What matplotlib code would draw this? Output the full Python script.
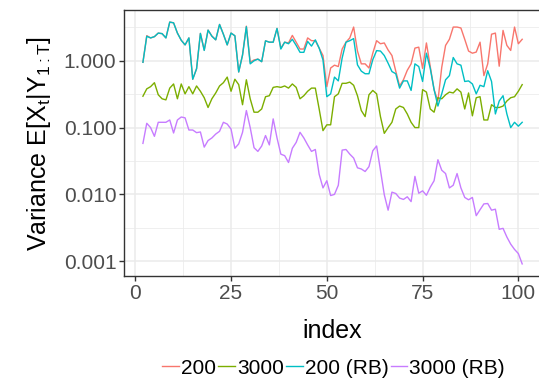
import numpy as np
import matplotlib
matplotlib.use("Agg")
import matplotlib.pyplot as plt
from matplotlib.ticker import FixedLocator, FixedFormatter

plt.rcParams['font.family'] = ['Liberation Sans', 'DejaVu Sans']

# index runs 2..101
index = list(range(2, 102))

rb200 = [0.95, 2.33, 2.2, 2.3, 2.6, 2.55, 2.2, 3.8, 3.7, 2.6,
         2.03, 1.73, 2.2, 0.53, 0.76, 2.57, 1.43, 2.88, 2.33, 2.06,
         3.5, 2.5, 1.73, 2.6, 2.37, 0.68, 1.22, 3.24, 0.9, 1.0,
         1.06, 0.97, 1.99, 1.9, 1.9, 3.05, 1.5, 1.9, 1.8, 2.1,
         1.7, 1.34, 1.34, 1.95, 1.66, 2.06, 1.55, 1.03, 0.29, 0.32,
         0.57, 0.5, 1.1, 1.9, 2.0, 2.15, 0.87, 0.7, 0.64, 0.64,
         1.04, 1.42, 1.4, 1.2, 0.92, 0.69, 0.64, 0.39, 0.5, 0.5,
         0.36, 0.9, 0.82, 0.49, 1.3, 0.77, 0.37, 0.21, 0.32, 0.52,
         0.6, 1.12, 0.9, 0.86, 0.49, 0.5, 0.45, 0.32, 0.43, 0.41,
         0.71, 0.49, 0.16, 0.25, 0.3, 0.16, 0.1, 0.12, 0.105, 0.12]

plain200 = [0.95, 2.38, 2.2, 2.3, 2.6, 2.55, 2.2, 3.8, 3.7, 2.6,
            2.03, 1.73, 2.2, 0.53, 0.76, 2.57, 1.45, 2.88, 2.35, 2.06,
            3.5, 2.5, 1.73, 2.6, 2.37, 0.68, 1.22, 3.3, 0.95, 1.03,
            1.06, 0.97, 1.99, 1.9, 1.9, 3.05, 1.55, 1.9, 1.85, 2.4,
            1.9, 1.5, 1.5, 2.2, 2.0, 2.0, 1.55, 1.2, 0.41, 0.78,
            0.86, 0.82, 1.5, 1.9, 2.2, 3.2, 1.4, 0.9, 0.9, 0.78,
            1.3, 2.0, 1.8, 1.85, 1.45, 1.2, 0.7, 0.42, 0.52, 0.72,
            0.9, 1.55, 1.6, 0.77, 1.85, 0.82, 0.37, 0.25, 0.8, 1.7,
            2.1, 3.2, 3.2, 3.1, 2.1, 1.4, 1.3, 1.35, 1.9, 0.6,
            0.9, 2.5, 2.6, 0.83, 2.85, 1.7, 1.43, 3.2, 1.8, 2.1]

plain3000 = [0.295, 0.38, 0.41, 0.47, 0.31, 0.27, 0.26, 0.39, 0.45, 0.27,
             0.45, 0.32, 0.41, 0.32, 0.42, 0.35, 0.28, 0.2, 0.27, 0.33,
             0.42, 0.47, 0.57, 0.35, 0.53, 0.44, 0.22, 0.52, 0.27, 0.17,
             0.17, 0.19, 0.29, 0.3, 0.4, 0.41, 0.4, 0.42, 0.39, 0.45,
             0.4, 0.27, 0.3, 0.35, 0.39, 0.39, 0.19, 0.09, 0.11, 0.11,
             0.29, 0.32, 0.46, 0.46, 0.48, 0.43, 0.3, 0.18, 0.146, 0.31,
             0.36, 0.32, 0.146, 0.082, 0.1, 0.12, 0.19, 0.21, 0.2, 0.16,
             0.12, 0.1, 0.1, 0.37, 0.34, 0.19, 0.17, 0.28, 0.27, 0.31,
             0.34, 0.33, 0.38, 0.34, 0.19, 0.33, 0.15, 0.28, 0.29, 0.13,
             0.13, 0.22, 0.2, 0.2, 0.21, 0.25, 0.28, 0.29, 0.35, 0.44]

rb3000 = [0.058, 0.116, 0.1, 0.074, 0.12, 0.12, 0.12, 0.13, 0.083, 0.13,
          0.144, 0.14, 0.092, 0.092, 0.084, 0.086, 0.051, 0.064, 0.07, 0.08,
          0.088, 0.12, 0.113, 0.095, 0.049, 0.057, 0.085, 0.18, 0.1, 0.05,
          0.044, 0.053, 0.076, 0.055, 0.135, 0.07, 0.04, 0.038, 0.03, 0.049,
          0.06, 0.085, 0.07, 0.055, 0.044, 0.047, 0.02, 0.0125, 0.016, 0.0096,
          0.01, 0.0137, 0.046, 0.047, 0.04, 0.035, 0.025, 0.024, 0.022, 0.026,
          0.045, 0.053, 0.023, 0.0099, 0.0058, 0.0108, 0.0103, 0.0088, 0.0084, 0.0092,
          0.0078, 0.0186, 0.0104, 0.0113, 0.0097, 0.0128, 0.016, 0.033, 0.023, 0.0205,
          0.0125, 0.0137, 0.0205, 0.0125, 0.009, 0.0083, 0.009, 0.0048, 0.0059, 0.0072,
          0.0073, 0.0058, 0.006, 0.003, 0.0031, 0.0023, 0.0018, 0.0015, 0.0013, 0.00091]

series = [("200", plain200, "#F8766D"),
          ("3000", plain3000, "#7CAE00"),
          ("200 (RB)", rb200, "#00BFC4"),
          ("3000 (RB)", rb3000, "#C77CFF")]

fig = plt.figure(figsize=(5.39, 3.81), dpi=100)
ax = fig.add_axes([0.230, 0.2756, 0.774, 0.6982])

for name, vals, col in series:
    ax.plot(index, vals, color=col, lw=1.0, label=name)

ax.set_yscale('log')
lo, hi = np.log10(0.00091), np.log10(3.8)
pad = 0.05 * (hi - lo)
ax.set_ylim(10 ** (lo - pad), 10 ** (hi + pad))
ax.set_xlim(2 - 0.05 * 99, 101 + 0.05 * 99)

ax.yaxis.set_major_locator(FixedLocator([0.001, 0.01, 0.1, 1]))
ax.yaxis.set_major_formatter(FixedFormatter(["0.001", "0.010", "0.100", "1.000"]))
ax.yaxis.set_minor_locator(FixedLocator([10 ** -2.5, 10 ** -1.5, 10 ** -0.5, 10 ** 0.5]))
ax.yaxis.set_minor_formatter(FixedFormatter([]))
ax.xaxis.set_major_locator(FixedLocator([0, 25, 50, 75, 100]))
ax.xaxis.set_minor_locator(FixedLocator([12.5, 37.5, 62.5, 87.5]))

ax.grid(True, which='major', color='#EBEBEB', lw=1.1)
ax.grid(True, which='minor', color='#EBEBEB', lw=0.55)
ax.set_axisbelow(True)
for sp in ax.spines.values():
    sp.set_color('#333333')
    sp.set_linewidth(1.0)
ax.tick_params(which='major', length=3.5, color='#333333', width=1.0,
               labelsize=15, labelcolor='#4D4D4D', pad=2)
ax.tick_params(which='minor', length=0)

ax.set_xlabel('index', fontsize=18, labelpad=12)
ax.set_ylabel(r'Variance E[X$_\mathregular{t}$|Y$_\mathregular{1{:}T}$]', fontsize=18, labelpad=8)

fig.legend(loc='center', bbox_to_anchor=(0.619, 0.034), ncol=4, frameon=False,
           fontsize=15, handlelength=0.8, handletextpad=0.1, columnspacing=0.1,
           borderpad=0)

fig.savefig('out.png', dpi=100)
